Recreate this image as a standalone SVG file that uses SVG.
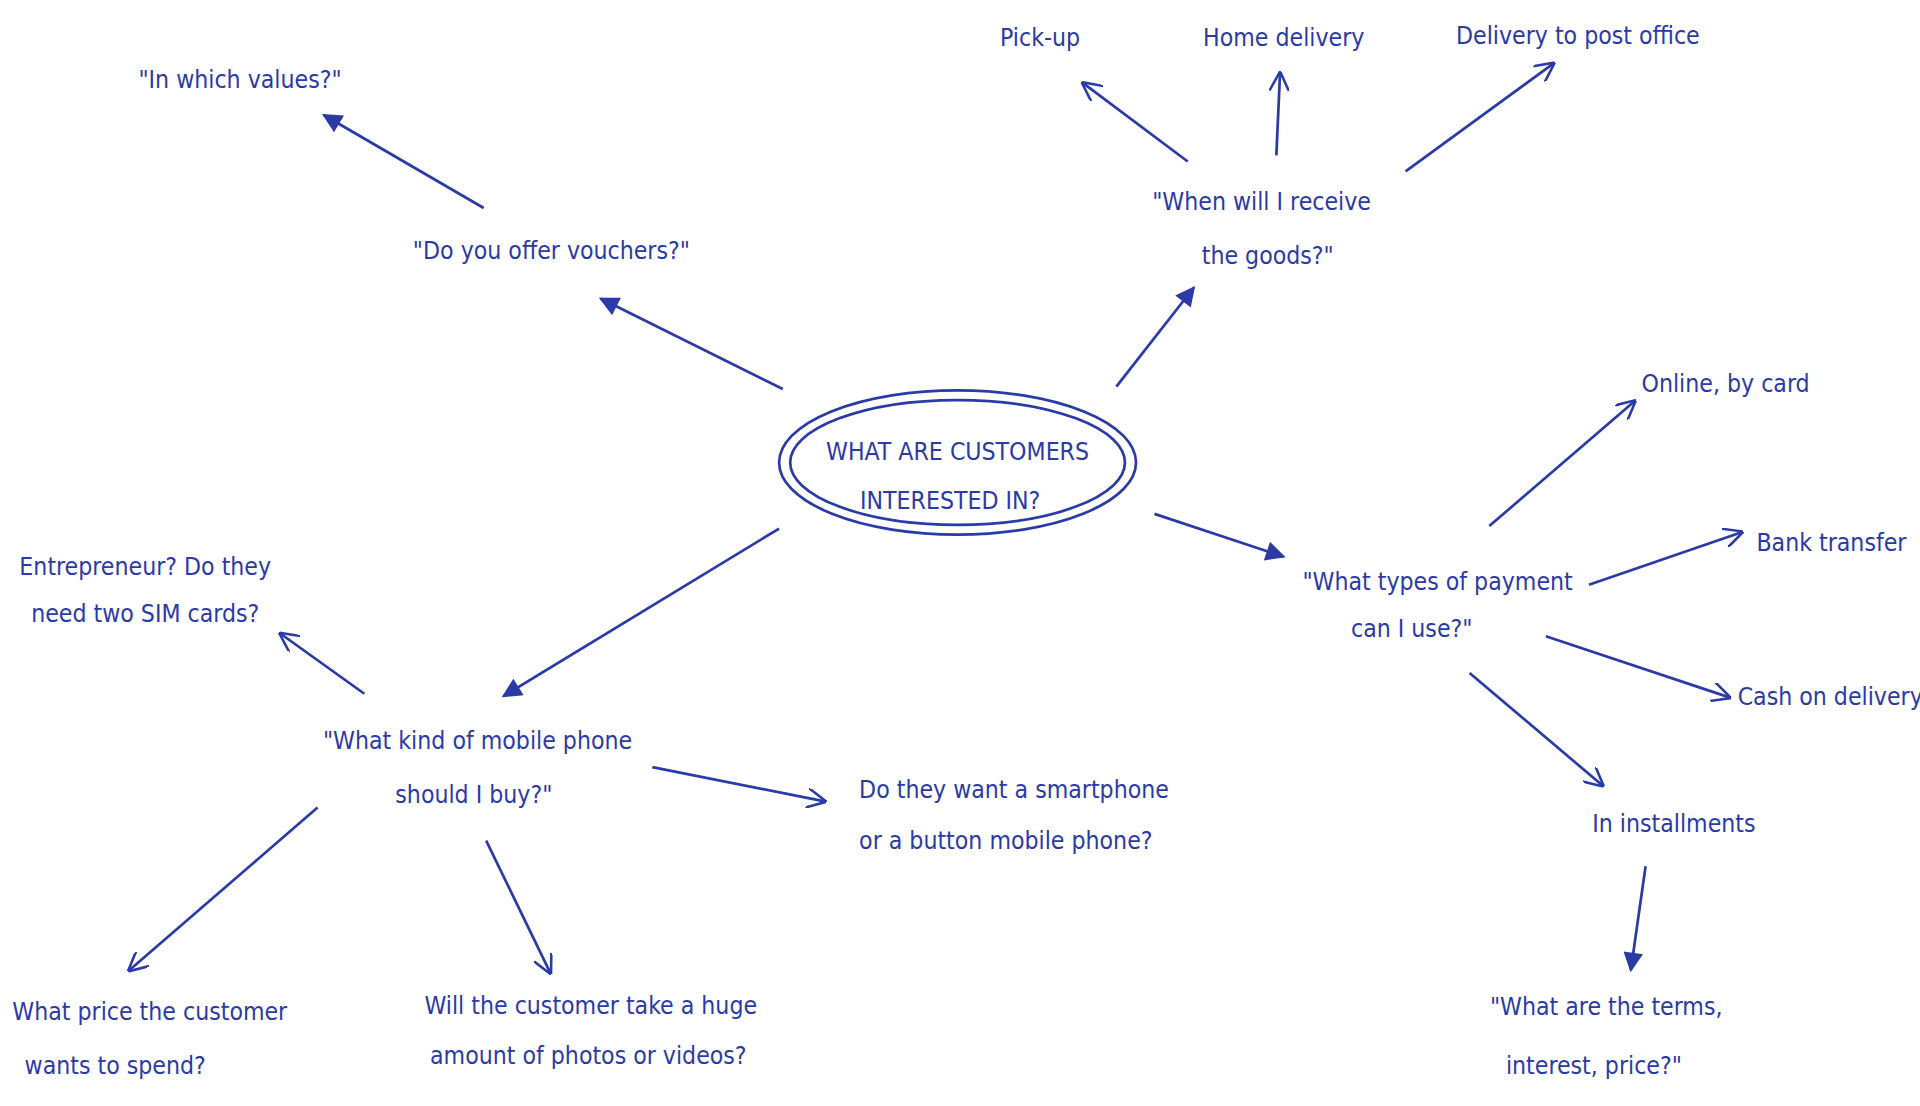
<svg xmlns="http://www.w3.org/2000/svg" width="1920" height="1106" viewBox="0 0 1920 1106">
<defs>
<marker id="f" viewBox="0 0 10 10" refX="9" refY="5" markerWidth="18" markerHeight="16" markerUnits="userSpaceOnUse" orient="auto"><path d="M0,0 L10,5 L0,10 z" fill="#2a3aa6"/></marker>
<marker id="o" viewBox="0 0 10 10" refX="9" refY="5" markerWidth="16" markerHeight="16" markerUnits="userSpaceOnUse" orient="auto"><path d="M0,0 L10,5 L0,10" fill="none" stroke="#2a3aa6" stroke-width="1.3"/></marker>
</defs>
<style>
text{font-family:"DejaVu Sans Condensed","DejaVu Sans",sans-serif;font-size:20px;fill:#2a3aa6;text-anchor:middle}
.l{text-anchor:start}
.c line{stroke:#2a3aa6;stroke-width:2.2}
.b line{marker-end:url(#f)}
.s line{marker-end:url(#o)}
</style>
<rect width="1920" height="1106" fill="#fff"/>
<g transform="scale(1.2308,1.2235)">
<g id="center">
<ellipse cx="778" cy="378" rx="145" ry="59" fill="none" stroke="#2a3aa6" stroke-width="2.2"/>
<ellipse cx="778" cy="378" rx="136" ry="51" fill="none" stroke="#2a3aa6" stroke-width="2.2"/>
<text x="778" y="376">WHAT ARE CUSTOMERS</text>
<text x="772" y="416">INTERESTED IN?</text>
</g>
<g class="c">
<g class="b">
<line x1="636" y1="318" x2="488" y2="244"/>
<line x1="393" y1="170" x2="263" y2="94"/>
<line x1="907" y1="316" x2="970" y2="235"/>
<line x1="938" y1="420" x2="1043" y2="455"/>
<line x1="1337" y1="708" x2="1325" y2="793"/>
<line x1="633" y1="432" x2="409" y2="569"/>
</g>
<g class="s">
<line x1="965" y1="132" x2="880" y2="68"/>
<line x1="1037" y1="127" x2="1040" y2="60"/>
<line x1="1142" y1="140" x2="1262" y2="52"/>
<line x1="1210" y1="430" x2="1328" y2="328"/>
<line x1="1291" y1="478" x2="1415" y2="435"/>
<line x1="1256" y1="520" x2="1405" y2="570"/>
<line x1="1194" y1="550" x2="1302" y2="642"/>
<line x1="296" y1="567" x2="228" y2="518"/>
<line x1="530" y1="627" x2="670" y2="655"/>
<line x1="258" y1="660" x2="105" y2="793"/>
<line x1="395" y1="687" x2="447" y2="795"/>
</g>
</g>
<g id="vouchers"><text x="448" y="212">"Do you offer vouchers?"</text></g>
<g id="values"><text x="195" y="72">"In which values?"</text></g>
<g id="when"><text x="1025" y="172">"When will I receive</text><text x="1030" y="216">the goods?"</text></g>
<g id="pickup"><text x="845" y="38">Pick-up</text></g>
<g id="home"><text x="1043" y="38">Home delivery</text></g>
<g id="post"><text x="1282" y="36">Delivery to post office</text></g>
<g id="payment"><text x="1168" y="482">"What types of payment</text><text x="1147" y="521">can I use?"</text></g>
<g id="online"><text x="1402" y="320">Online, by card</text></g>
<g id="bank"><text x="1488" y="450">Bank transfer</text></g>
<g id="cash"><text x="1487" y="576">Cash on delivery</text></g>
<g id="install"><text x="1360" y="680">In installments</text></g>
<g id="terms"><text x="1305" y="830">"What are the terms,</text><text x="1295" y="878">interest, price?"</text></g>
<g id="phone"><text x="388" y="612">"What kind of mobile phone</text><text x="385" y="656">should I buy?"</text></g>
<g id="sim"><text x="118" y="470">Entrepreneur? Do they</text><text x="118" y="508">need two SIM cards?</text></g>
<g id="smart"><text class="l" x="698" y="652">Do they want a smartphone</text><text class="l" x="698" y="694">or a button mobile phone?</text></g>
<g id="price"><text class="l" x="10" y="834">What price the customer</text><text class="l" x="20" y="878">wants to spend?</text></g>
<g id="photos"><text x="480" y="829">Will the customer take a huge</text><text x="478" y="870">amount of photos or videos?</text></g>
</g>
</svg>
